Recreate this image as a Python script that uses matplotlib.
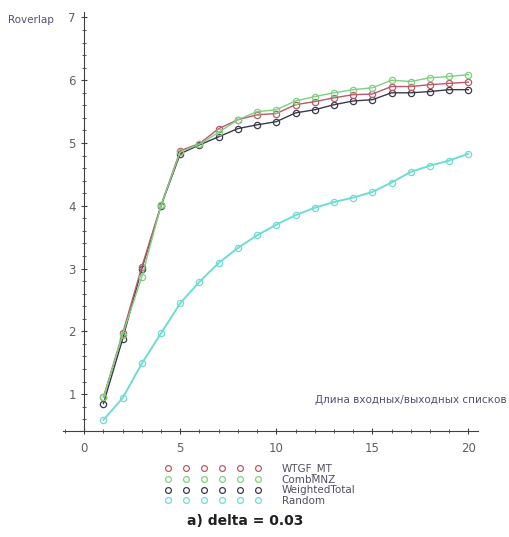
import matplotlib
matplotlib.use('Agg')
import matplotlib.pyplot as plt
from matplotlib.lines import Line2D
from matplotlib.ticker import MultipleLocator

# list length (x) and Roverlap values
x = list(range(1, 21))
wtgf_mt = [0.95, 1.97, 3.03, 4.01, 4.88, 4.99, 5.23, 5.37, 5.45, 5.47,
           5.61, 5.66, 5.72, 5.77, 5.78, 5.90, 5.90, 5.93, 5.95, 5.97]
comb_mnz = [0.95, 1.95, 2.87, 4.01, 4.86, 4.98, 5.17, 5.37, 5.50, 5.53,
            5.67, 5.74, 5.80, 5.85, 5.88, 6.00, 5.98, 6.04, 6.06, 6.09]
weighted_total = [0.85, 1.88, 3.00, 4.00, 4.83, 4.97, 5.10, 5.23, 5.29, 5.34,
                  5.48, 5.53, 5.61, 5.67, 5.69, 5.80, 5.80, 5.82, 5.85, 5.85]
random_ = [0.59, 0.94, 1.49, 1.97, 2.45, 2.79, 3.09, 3.33, 3.53, 3.70,
           3.85, 3.97, 4.06, 4.13, 4.22, 4.37, 4.54, 4.64, 4.72, 4.83]

names = ['WTGF_MT', 'CombMNZ', 'WeightedTotal', 'Random']
colors = ['#b85a6a', '#7fd07f', '#3a3a4a', '#6fdcd4']
series = [wtgf_mt, comb_mnz, weighted_total, random_]

fig = plt.figure(figsize=(5.09, 5.37), dpi=100)
ax = fig.add_axes([0.124, 0.197, 0.815, 0.781])

# draw black first so red/green sit on top like in the original
for i in [3, 2, 0, 1]:
    ax.plot(x, series[i], color=colors[i], lw=1.4 if i == 3 else 1.0,
            marker='o', ms=4.5, mfc='none', mew=0.9)

ax.set_xlim(-1.1, 20.5)
ax.set_ylim(0.41, 7.09)

# axes through the origin, maple style
ax.spines['left'].set_position(('data', 0))
ax.spines['top'].set_visible(False)
ax.spines['right'].set_visible(False)
ax.spines['left'].set_color('#404040')
ax.spines['bottom'].set_color('#404040')

ax.xaxis.set_major_locator(MultipleLocator(5))
ax.xaxis.set_minor_locator(MultipleLocator(1))
ax.yaxis.set_major_locator(MultipleLocator(1))
ax.yaxis.set_minor_locator(MultipleLocator(0.2))
ax.set_yticks([1, 2, 3, 4, 5, 6, 7])
ax.tick_params(which='both', direction='inout', colors='#404040',
               labelcolor='#606060', labelsize=8.5)
ax.tick_params(which='major', length=5)
ax.tick_params(which='minor', length=3)
ax.tick_params(axis='x', pad=5)

fig.text(8 / 509, 1 - 20 / 537, 'Roverlap', fontsize=7.5, color='#505070',
         va='center', ha='left')
fig.text(507 / 509, 1 - 400 / 537, 'Длина входных/выходных списков',
         fontsize=7.5, color='#505070', va='center', ha='right')

handles = [Line2D([], [], ls='none', marker='o', ms=4.2, mfc='none',
                  mew=0.9, color=c) for c in colors]
fig.legend(handles, names, loc='upper left',
           bbox_to_anchor=(160 / 509, 1 - 458 / 537),
           numpoints=6, handlelength=9.2, handletextpad=2.0,
           labelspacing=0.05, frameon=False, fontsize=7.5,
           labelcolor='#505060', borderpad=0)

fig.text(245 / 509, 1 - 521 / 537, 'a) delta = 0.03', fontsize=10,
         fontweight='bold', color='#202020', ha='center', va='center')

fig.savefig('out.png', dpi=100)
